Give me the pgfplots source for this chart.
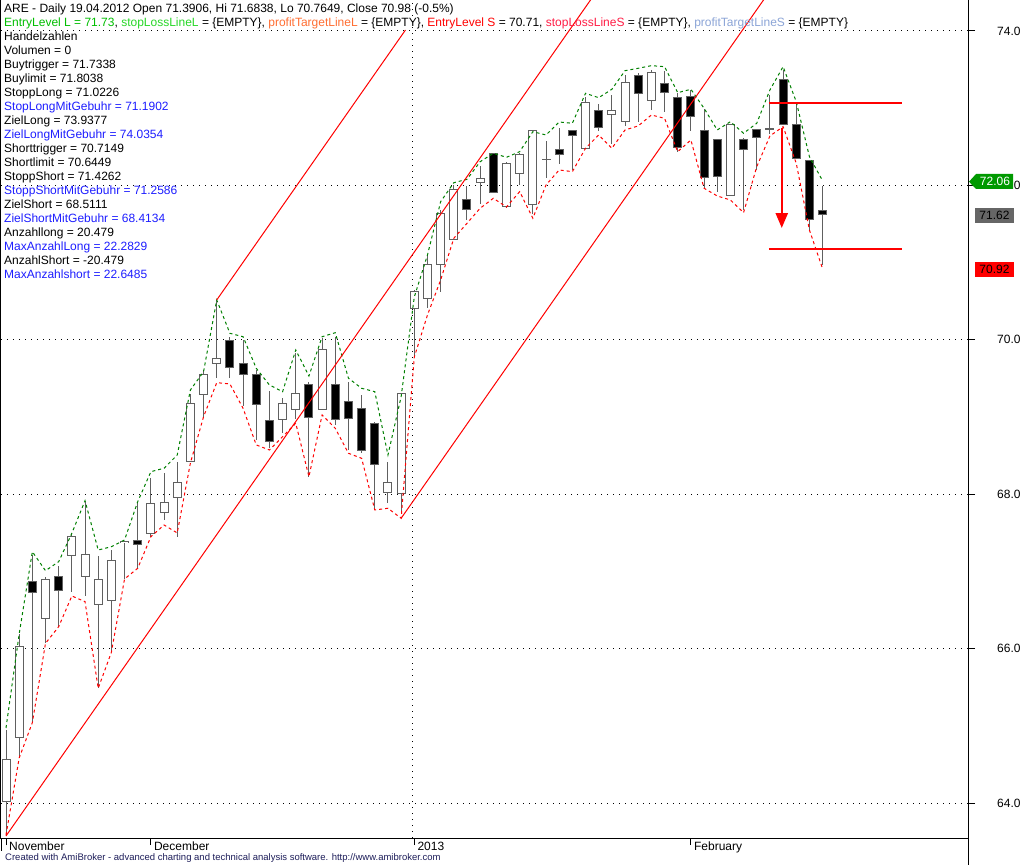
\documentclass[border=0pt]{standalone}
\usepackage{fontspec}
\setmainfont{Liberation Sans}
\usepackage{pgfplots}
\pgfplotsset{compat=1.18}
\usepackage{pgfplotstable}
\usetikzlibrary{arrows.meta}

\definecolor{wick}{RGB}{96,96,96}
\definecolor{envgreen}{RGB}{0,128,0}
\definecolor{envred}{RGB}{255,0,0}
\definecolor{txtgreen}{RGB}{0,190,0}
\definecolor{txtlime}{RGB}{40,215,40}
\definecolor{txtorange}{RGB}{255,110,50}
\definecolor{txtred}{RGB}{255,0,0}
\definecolor{txtpink}{RGB}{255,30,70}
\definecolor{txtsteel}{RGB}{140,165,215}
\definecolor{txtblue}{RGB}{30,30,255}
\definecolor{boxgreen}{RGB}{0,153,0}
\definecolor{boxgray}{RGB}{102,102,102}
\definecolor{footer}{RGB}{30,30,90}

% i open high low close d(1=black) green-env red-env
\pgfplotstableread{
i o h l c d g r
0 64.017 64.946 63.573 64.566 0 64.972 63.586
1 64.855 66.189 64.583 66.034 0 66.189 64.583
2 66.867 67.213 65.041 66.730 1 67.255 65.041
3 66.393 66.932 66.069 66.898 0 67.009 66.069
4 66.932 67.070 66.284 66.759 1 67.126 66.284
5 67.204 67.494 66.737 67.450 0 67.494 66.682
6 66.932 67.903 66.682 67.222 0 67.916 66.608
7 66.574 67.200 65.486 66.898 0 67.277 65.486
8 66.626 67.277 65.952 67.144 0 67.320 65.952
9 67.372 67.394 66.902 67.390 0 67.407 66.902
10 67.403 67.903 67.040 67.351 1 67.903 67.040
11 67.494 68.210 67.450 67.882 0 68.292 67.450
12 67.766 68.279 67.666 67.895 0 68.336 67.601
13 67.960 68.413 67.450 68.154 0 68.508 67.498
14 68.421 69.298 68.417 69.178 0 69.350 68.404
15 69.294 69.609 69.004 69.553 0 69.587 69.004
16 69.696 70.516 69.502 69.761 0 70.516 69.445
17 69.985 70.040 69.502 69.644 1 70.084 69.428
18 69.696 69.998 69.143 69.553 1 70.040 69.113
19 69.553 69.609 68.702 69.165 1 69.631 68.638
20 68.958 69.337 68.603 68.689 1 69.415 68.573
21 68.970 69.250 68.789 69.178 0 69.328 68.745
22 69.100 69.825 68.970 69.307 0 69.868 68.919
23 69.424 69.450 68.227 68.996 1 69.531 68.227
24 69.100 70.027 69.090 69.877 0 70.040 69.026
25 69.424 70.040 68.897 68.970 1 70.092 68.854
26 69.198 69.457 68.573 68.983 1 69.502 68.530
27 69.104 69.285 68.530 68.564 1 69.372 68.465
28 68.919 68.930 67.796 68.391 1 69.328 67.796
29 68.025 68.413 67.882 68.154 0 68.508 67.818
30 68.012 69.307 67.753 69.307 0 69.263 67.688
31 70.408 70.645 69.781 70.623 0 70.555 69.777
32 70.538 71.108 70.408 70.978 0 71.099 70.321
33 70.978 71.682 70.623 71.639 0 71.789 70.775
34 71.302 72.005 71.290 71.950 0 72.035 71.315
35 71.820 71.992 71.552 71.690 1 72.079 71.509
36 72.035 72.251 71.759 72.092 0 72.307 71.704
37 72.407 72.424 71.900 71.911 1 72.416 71.833
38 71.724 72.307 71.710 72.277 0 72.364 71.720
39 72.157 72.416 72.005 72.394 0 72.437 71.919
40 71.755 72.718 71.626 72.705 0 72.696 71.574
41 72.335 72.575 72.100 72.342 0 72.653 72.005
42 72.468 72.744 72.273 72.403 1 72.821 72.200
43 72.705 72.718 72.200 72.649 1 72.805 72.178
44 72.481 73.149 72.470 73.077 0 73.193 72.481
45 72.973 73.055 72.709 72.753 1 73.136 72.653
46 72.921 73.171 72.533 72.973 0 73.245 72.481
47 72.825 73.430 72.770 73.336 0 73.486 72.718
48 73.426 73.452 72.825 73.193 1 73.517 72.770
49 73.097 73.495 72.977 73.465 0 73.551 72.912
50 73.323 73.482 72.955 73.206 1 73.538 72.869
51 73.141 73.193 72.437 72.494 1 73.201 72.437
52 73.149 73.236 72.709 72.890 1 73.245 72.588
53 72.705 72.986 71.963 72.105 1 72.999 71.963
54 72.588 72.600 71.919 72.113 1 72.718 71.863
55 71.867 72.790 71.860 72.783 0 72.825 71.811
56 72.597 72.610 71.682 72.468 1 72.675 71.647
57 72.718 72.730 72.200 72.623 1 72.805 72.242
58 72.725 73.171 72.666 72.731 0 73.236 72.640
59 73.374 73.495 72.783 72.792 1 73.538 72.761
60 72.795 73.084 72.340 72.351 1 73.084 72.286
61 72.316 72.329 71.422 71.561 1 72.372 71.422
62 71.678 71.992 70.969 71.620 1 72.060 70.920
}\candles

\begin{document}
\fontsize{12}{14}\selectfont
\begin{tikzpicture}[x=1pt,y=1pt]
\useasboundingbox (0,0) rectangle (1028,865);
\fill[white] (0,0) rectangle (1028,865);

\begin{axis}[
  at={(1pt,27pt)}, anchor=south west,
  width=967pt, height=838pt, scale only axis,
  xmin=-0.38, xmax=73.04, ymin=63.5467, ymax=74.4016,
  axis line style={black, line width=1pt},
  tick style={black, line width=1pt},
  tick align=outside, major tick length=7pt,
  xtick={0,11,31,52},
  xticklabels={November,December,2013,February},
  xtick pos=bottom,
  xticklabel style={anchor=north west, inner sep=0pt, xshift=3pt, yshift=3pt},
  ytick={64,66,68,70,72,74},
  ytick pos=right, yticklabel pos=right,
  yticklabel={\pgfmathprintnumber[fixed,fixed zerofill,precision=1]{\tick}},
  yticklabel style={anchor=west, inner sep=0pt, xshift=22pt},
  /pgf/number format/assume math mode=true,
  ymajorgrids, grid style={black, line width=1pt, dash pattern=on 1pt off 5pt},
]
% year separator
\addplot[black, line width=1pt, dash pattern=on 1pt off 5pt, forget plot]
  coordinates {(30.9,63.5467) (30.9,74.4016)};

% wicks
\addplot[draw=none, mark=none, forget plot,
  error bars/.cd, y dir=both, y explicit, error mark=none,
  error bar style={draw=wick, line width=1pt}]
  table[x=i, y expr={(\thisrow{h}+\thisrow{l})/2},
        y error expr={(\thisrow{h}-\thisrow{l})/2}] {\candles};
% body outlines
\addplot[draw=none, mark=none, forget plot,
  error bars/.cd, y dir=both, y explicit, error mark=none,
  error bar style={draw=wick, line width=9pt}]
  table[x=i, y expr={(\thisrow{o}+\thisrow{c})/2},
        y error expr={abs(\thisrow{c}-\thisrow{o})/2+0.0075}] {\candles};
% body interiors, white first
\addplot[draw=none, mark=none, forget plot,
  error bars/.cd, y dir=both, y explicit, error mark=none,
  error bar style={draw=white, line width=7pt}]
  table[x=i, y expr={(\thisrow{o}+\thisrow{c})/2},
        y error expr={max(abs(\thisrow{c}-\thisrow{o})/2-0.0055,0)}] {\candles};
% then black for falling bars (d=1)
\addplot[draw=none, mark=none, forget plot,
  error bars/.cd, y dir=both, y explicit, error mark=none,
  error bar style={draw=black, line width=7pt}]
  table[x=i, y expr={(\thisrow{o}+\thisrow{c})/2},
        y error expr={\thisrow{d}*max(abs(\thisrow{c}-\thisrow{o})/2-0.0055,0)}] {\candles};

% envelopes
\addplot[envgreen, line width=1pt, dash pattern=on 3pt off 3pt, mark=none]
  table[x=i, y=g] {\candles};
\addplot[envred, line width=1pt, dash pattern=on 3pt off 3pt, mark=none]
  table[x=i, y=r] {\candles};

% channel lines
\addplot[red, line width=1pt] coordinates {(0,63.573) (46,74.797)};
\addplot[red, line width=1pt] coordinates {(16,70.516) (30.33,74.013)};
\addplot[red, line width=1pt] coordinates {(30,67.688) (59,74.764)};

% levels and arrow
\addplot[red, line width=2pt] coordinates {(57.93,73.063) (68.03,73.063)};
\addplot[red, line width=2pt] coordinates {(57.93,71.176) (68.03,71.176)};
\addplot[red, line width=2.5pt, -{Triangle[width=12pt,length=15pt]}]
  coordinates {(58.9,72.743) (58.9,71.448)};
\end{axis}

% axis extensions below the frame
\draw[black, line width=1pt] (968,27) -- (968,0);
\draw[black, line width=1pt] (1,27) -- (1,14);

% price labels on the right
\fill[boxgreen] (969,683.3) -- (976,691) -- (1013,691) -- (1013,676) -- (976,676) -- cycle;
\node[text=white, inner sep=0pt] at (995,683.3) {72.06};
\fill[boxgray] (975,642) rectangle (1014,657);
\node[text=black, inner sep=0pt] at (994.5,649.5) {71.62};
\fill[red] (975,588) rectangle (1014,603);
\node[text=black, inner sep=0pt] at (994.5,595.5) {70.92};

% header and data lines
\begin{scope}[every node/.style={anchor=base west, inner sep=0pt}]
\node at (4,852.4) {ARE - Daily 19.04.2012 Open 71.3906, Hi 71.6838, Lo 70.7649, Close 70.98 (-0.5\%)};
\node at (4,838.4) {\textcolor{txtgreen}{EntryLevel L = 71.73}, \textcolor{txtlime}{stopLossLineL} = \{EMPTY\}, \textcolor{txtorange}{profitTargetLineL} = \{EMPTY\}, \textcolor{txtred}{EntryLevel S} = 70.71, \textcolor{txtpink}{stopLossLineS} = \{EMPTY\}, \textcolor{txtsteel}{profitTargetLineS} = \{EMPTY\}};
\node at (4,824.4) {Handelzahlen};
\node at (4,810.4) {Volumen = 0};
\node at (4,796.4) {Buytrigger = 71.7338};
\node at (4,782.4) {Buylimit = 71.8038};
\node at (4,768.4) {StoppLong = 71.0226};
\node[text=txtblue] at (4,754.4) {StopLongMitGebuhr = 71.1902};
\node at (4,740.4) {ZielLong = 73.9377};
\node[text=txtblue] at (4,726.4) {ZielLongMitGebuhr = 74.0354};
\node at (4,712.4) {Shorttrigger = 70.7149};
\node at (4,698.4) {Shortlimit = 70.6449};
\node at (4,684.4) {StoppShort = 71.4262};
\node[text=txtblue] at (4,670.4) {StoppShortMitGebuhr = 71.2586};
\node at (4,656.4) {ZielShort = 68.5111};
\node[text=txtblue] at (4,642.4) {ZielShortMitGebuhr = 68.4134};
\node at (4,628.4) {Anzahllong = 20.479};
\node[text=txtblue] at (4,614.4) {MaxAnzahlLong = 22.2829};
\node at (4,600.4) {AnzahlShort = -20.479};
\node[text=txtblue] at (4,586.4) {MaxAnzahlshort = 22.6485};
\node[text=footer, font=\fontsize{9.5}{11}\selectfont] at (5,4.5) {Created with AmiBroker - advanced charting and technical analysis software. http://www.amibroker.com};
\end{scope}
\end{tikzpicture}
\end{document}
